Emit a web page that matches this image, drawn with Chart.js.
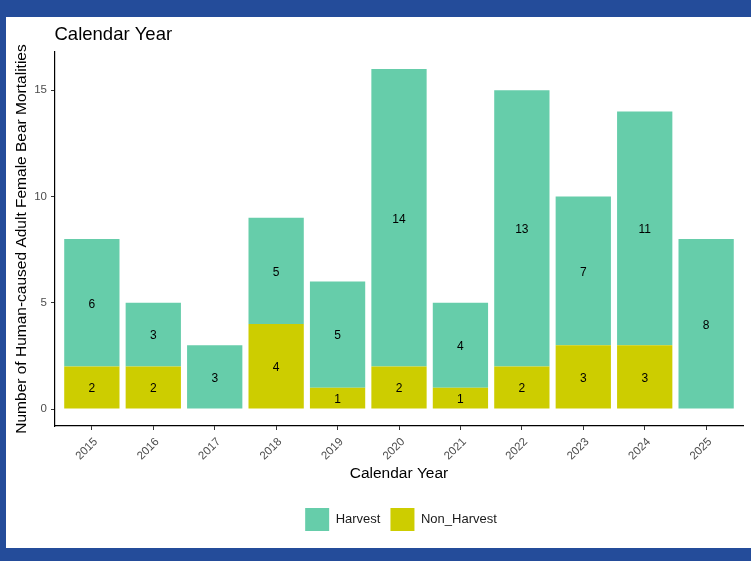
<!DOCTYPE html>
<html><head><meta charset="utf-8">
<script src="https://cdn.jsdelivr.net/npm/chart.js@4.4.1/dist/chart.umd.min.js"></script>
<style>
html,body{margin:0;padding:0;background:#244C9A;width:751px;height:561px;overflow:hidden;}
#wrap{position:absolute;left:6px;top:17px;width:745px;height:531px;background:#fff;}
canvas{display:block;}
</style></head><body>
<div id="wrap"><canvas id="c" width="745" height="531"></canvas></div>
<script>
const years = [2015, 2016, 2017, 2018, 2019, 2020, 2021, 2022, 2023, 2024, 2025];
const harvest = [6, 3, 3, 5, 5, 14, 4, 13, 7, 11, 8];
const nonHarvest = [2, 2, 0, 4, 1, 2, 1, 2, 3, 3, 0];
const yTicks = [0, 5, 10, 15];
const chartTitle = 'Calendar Year';
const xTitle = 'Calendar Year';
const yTitle = 'Number of Human-caused Adult Female Bear Mortalities';

const FONT = "'Liberation Sans', Arial, sans-serif";
Chart.defaults.font.family = FONT;

const titlePlugin = {
  id: 'ggTitle',
  afterDraw(chart) {
    const ctx = chart.ctx;
    ctx.save();
    ctx.font = '18.5px ' + FONT;
    ctx.fillStyle = '#000';
    ctx.textAlign = 'left';
    ctx.textBaseline = 'alphabetic';
    ctx.fillText(chartTitle, chart.chartArea.left - 0.5, 22.5);
    ctx.restore();
  }
};

const labelPlugin = {
  id: 'barLabels',
  afterDatasetsDraw(chart) {
    const ctx = chart.ctx;
    ctx.save();
    ctx.font = '12px ' + FONT;
    ctx.fillStyle = '#000';
    ctx.textAlign = 'center';
    ctx.textBaseline = 'middle';
    chart.data.datasets.forEach((ds, di) => {
      const meta = chart.getDatasetMeta(di);
      meta.data.forEach((bar, i) => {
        const v = ds.data[i].y;
        if (!v) return;
        ctx.fillText(String(v), bar.x, (bar.y + bar.base) / 2 + 1.5);
      });
    });
    ctx.restore();
  }
};

const legendPlace = {
  id: 'legendPlace',
  afterLayout(chart) {
    if (chart.legend) {
      chart.legend.left = chart.chartArea.left + 2;
      chart.legend.right = chart.chartArea.right + 2;
    }
  }
};

new Chart(document.getElementById('c'), {
  type: 'bar',
  data: {
    datasets: [
      {
        label: 'Non_Harvest',
        data: years.map((y, i) => ({ x: y, y: nonHarvest[i] })),
        backgroundColor: '#CDCD00',
        borderWidth: 0,
        barPercentage: 0.9,
        categoryPercentage: 1.0
      },
      {
        label: 'Harvest',
        data: years.map((y, i) => ({ x: y, y: harvest[i] })),
        backgroundColor: '#66CDAA',
        borderWidth: 0,
        barPercentage: 0.9,
        categoryPercentage: 1.0
      }
    ]
  },
  options: {
    responsive: false,
    animation: false,
    layout: { padding: { top: 35, left: 0, right: 8, bottom: 7 } },
    plugins: {
      tooltip: { enabled: false },
      legend: {
        position: 'bottom',
        reverse: true,
        labels: {
          boxWidth: 24,
          boxHeight: 23,
          padding: 10,
          color: '#1a1a1a',
          font: { size: 13, family: FONT }
        }
      }
    },
    scales: {
      x: {
        type: 'linear',
        stacked: true,
        offset: false,
        min: 2014.4,
        max: 2025.6,
        afterBuildTicks: s => { s.ticks = years.map(v => ({ value: v })); },
        afterFit: s => { s.height = 524 - (s.chart.legend ? s.chart.legend.height : 43) - 409; },
        ticks: {
          callback: v => String(v),
          minRotation: 45,
          maxRotation: 45,
          labelOffset: 4,
          padding: 5,
          color: '#4D4D4D',
          font: { size: 11.5, family: FONT },
          autoSkip: false
        },
        grid: {
          offset: false,
          drawOnChartArea: false,
          drawTicks: true,
          tickLength: 4,
          tickColor: '#333333'
        },
        border: { display: true, color: '#000', width: 1.2 },
        title: {
          display: true,
          text: xTitle,
          color: '#000',
          font: { size: 15.5, family: FONT },
          padding: { top: 0, bottom: 15 }
        }
      },
      y: {
        stacked: true,
        min: -0.8,
        max: 16.8,
        afterBuildTicks: s => { s.ticks = yTicks.map(v => ({ value: v })); },
        afterFit: s => { s.width = 49; },
        ticks: {
          callback: v => String(v),
          padding: 4,
          color: '#4D4D4D',
          font: { size: 11.5, family: FONT }
        },
        grid: {
          drawOnChartArea: false,
          drawTicks: true,
          tickLength: 4,
          tickColor: '#333333'
        },
        border: { display: true, color: '#000', width: 1.2 },
        title: {
          display: true,
          text: yTitle,
          color: '#000',
          font: { size: 15.5, family: FONT },
          padding: { top: 6, bottom: 0 }
        }
      }
    }
  },
  plugins: [titlePlugin, labelPlugin, legendPlace]
});
</script>
</body></html>
